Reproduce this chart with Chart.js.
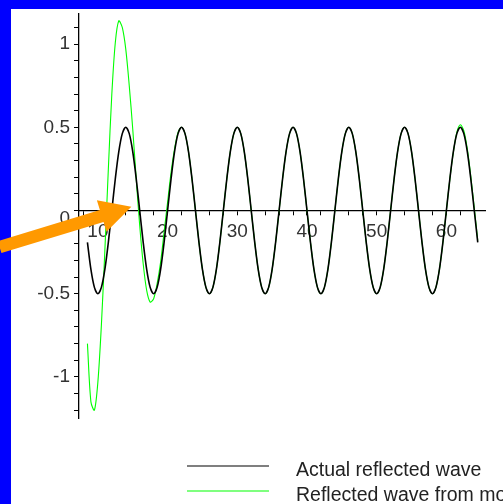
<!DOCTYPE html>
<html lang="en">
<head>
    <meta charset="UTF-8">
    <title>Reflected wave</title>
    <script src="https://cdn.jsdelivr.net/npm/chart.js"></script>
    <style>
        body {
            margin: 0;
            overflow: hidden;
            background-color: #0000ff;
        }

        .chart-container {
            position: relative;
            width: 503px;
            height: 504px;
        }
    </style>
</head>
<body>

    <div class="chart-container">
        <canvas id="waveChart"></canvas>
    </div>

    <script>
        // Sample positions along the line
        const xValues = [
            8.5, 9, 9.5, 10, 10.5, 11, 11.5, 12, 12.5, 13, 13.5, 14, 14.5, 15, 15.5, 16,
            16.5, 17, 17.5, 18, 18.5, 19, 19.5, 20, 20.5, 21, 21.5, 22, 22.5, 23, 23.5, 24,
            24.5, 25, 25.5, 26, 26.5, 27, 27.5, 28, 28.5, 29, 29.5, 30, 30.5, 31, 31.5, 32,
            32.5, 33, 33.5, 34, 34.5, 35, 35.5, 36, 36.5, 37, 37.5, 38, 38.5, 39, 39.5, 40,
            40.5, 41, 41.5, 42, 42.5, 43, 43.5, 44, 44.5, 45, 45.5, 46, 46.5, 47, 47.5, 48,
            48.5, 49, 49.5, 50, 50.5, 51, 51.5, 52, 52.5, 53, 53.5, 54, 54.5, 55, 55.5, 56,
            56.5, 57, 57.5, 58, 58.5, 59, 59.5, 60, 60.5, 61, 61.5, 62, 62.5, 63, 63.5, 64,
            64.5
        ];

        // Actual reflected wave
        const actualWave = [
            -0.191, -0.354, -0.462, -0.5, -0.462, -0.354, -0.191, 0, 0.191, 0.354, 0.462, 0.5, 0.462, 0.354, 0.191, 0,
            -0.191, -0.354, -0.462, -0.5, -0.462, -0.354, -0.191, 0, 0.191, 0.354, 0.462, 0.5, 0.462, 0.354, 0.191, 0,
            -0.191, -0.354, -0.462, -0.5, -0.462, -0.354, -0.191, 0, 0.191, 0.354, 0.462, 0.5, 0.462, 0.354, 0.191, 0,
            -0.191, -0.354, -0.462, -0.5, -0.462, -0.354, -0.191, 0, 0.191, 0.354, 0.462, 0.5, 0.462, 0.354, 0.191, 0,
            -0.191, -0.354, -0.462, -0.5, -0.462, -0.354, -0.191, 0, 0.191, 0.354, 0.462, 0.5, 0.462, 0.354, 0.191, 0,
            -0.191, -0.354, -0.462, -0.5, -0.462, -0.354, -0.191, 0, 0.191, 0.354, 0.462, 0.5, 0.462, 0.354, 0.191, 0,
            -0.191, -0.354, -0.462, -0.5, -0.462, -0.354, -0.191, 0, 0.191, 0.354, 0.462, 0.5, 0.462, 0.354, 0.191, 0,
            -0.191
        ];

        // Reflected wave from the model (big start-up swing, then settles)
        const modelWave = [
            -0.80, -1.15, -1.20, -1.03, -0.69, -0.24, 0.25, 0.70, 1.01, 1.14, 1.10, 0.97, 0.75, 0.49, 0.19, -0.09,
            -0.32, -0.48, -0.55, -0.53, -0.44, -0.31, -0.13, 0.05, 0.23, 0.37, 0.47, 0.50, 0.462, 0.354, 0.191, 0,
            -0.191, -0.354, -0.462, -0.5, -0.462, -0.354, -0.191, 0, 0.191, 0.354, 0.462, 0.5, 0.462, 0.354, 0.191, 0,
            -0.191, -0.354, -0.462, -0.5, -0.462, -0.354, -0.191, 0, 0.191, 0.354, 0.462, 0.5, 0.462, 0.354, 0.191, 0,
            -0.191, -0.354, -0.462, -0.5, -0.462, -0.354, -0.191, 0, 0.191, 0.354, 0.462, 0.5, 0.462, 0.354, 0.191, 0,
            -0.191, -0.354, -0.462, -0.5, -0.462, -0.354, -0.191, 0, 0.191, 0.354, 0.462, 0.5, 0.462, 0.354, 0.191, 0,
            -0.191, -0.354, -0.462, -0.5, -0.462, -0.354, -0.191, 0, 0.19, 0.35, 0.47, 0.515, 0.48, 0.37, 0.205, 0.015,
            -0.18
        ];

        const seriesNames = ['Actual reflected wave', 'Reflected wave from model'];
        const seriesColors = ['#000000', '#00ff00'];

        // Tick positions (labels only on the round ones)
        const xTicks = [8, 10, 12, 14, 16, 18, 20, 22, 24, 26, 28, 30, 32, 34, 36, 38, 40,
                        42, 44, 46, 48, 50, 52, 54, 56, 58, 60, 62, 64];
        const xLabelled = [10, 20, 30, 40, 50, 60];
        const yTicks = [-1.2, -1.1, -1, -0.9, -0.8, -0.7, -0.6, -0.5, -0.4, -0.3, -0.2, -0.1, 0,
                        0.1, 0.2, 0.3, 0.4, 0.5, 0.6, 0.7, 0.8, 0.9, 1, 1.1];
        const yLabelled = [-1, -0.5, 0, 0.5, 1];

        // Arrow pointing at the first crossing (axis units)
        const arrowFrom = { x: -4.1, y: -0.22 };
        const arrowTo = { x: 14.8, y: 0.022 };

        const fontFamily = '"Liberation Sans", Arial, sans-serif';

        // Blue frame with white panel behind the plot
        const framePlugin = {
            id: 'frame',
            beforeDraw(chart) {
                const ctx = chart.ctx;
                ctx.save();
                ctx.fillStyle = '#0000ff';
                ctx.fillRect(0, 0, chart.width, chart.height);
                ctx.fillStyle = '#ffffff';
                ctx.fillRect(11, 9, chart.width - 11, chart.height - 9);
                ctx.restore();
            }
        };

        // Legend below the plot, one row per series
        const legendPlugin = {
            id: 'lineLegend',
            afterDraw(chart) {
                const ctx = chart.ctx;
                ctx.save();
                ctx.font = '19.5px ' + fontFamily;
                ctx.textBaseline = 'alphabetic';
                chart.data.datasets.forEach((ds, i) => {
                    const y = 466 + i * 25;
                    ctx.strokeStyle = ds.borderColor;
                    ctx.lineWidth = 1.2;
                    ctx.beginPath();
                    ctx.moveTo(187, y);
                    ctx.lineTo(269, y);
                    ctx.stroke();
                    ctx.fillStyle = '#222';
                    ctx.fillText(ds.label, 296, y + 10);
                });
                ctx.restore();
            }
        };

        // Orange arrow on top of everything
        const arrowPlugin = {
            id: 'arrow',
            afterDraw(chart) {
                const xs = chart.scales.x, ys = chart.scales.y;
                const x1 = xs.getPixelForValue(arrowFrom.x), y1 = ys.getPixelForValue(arrowFrom.y);
                const x2 = xs.getPixelForValue(arrowTo.x), y2 = ys.getPixelForValue(arrowTo.y);
                const ang = Math.atan2(y2 - y1, x2 - x1);
                const len = Math.hypot(x2 - x1, y2 - y1);
                const shaft = 12.5, headLen = 31, headW = 33;
                const ctx = chart.ctx;
                ctx.save();
                ctx.translate(x1, y1);
                ctx.rotate(ang);
                ctx.beginPath();
                ctx.moveTo(0, -shaft / 2);
                ctx.lineTo(len - headLen, -shaft / 2);
                ctx.lineTo(len - headLen, -headW / 2);
                ctx.lineTo(len, 0);
                ctx.lineTo(len - headLen, headW / 2);
                ctx.lineTo(len - headLen, shaft / 2);
                ctx.lineTo(0, shaft / 2);
                ctx.closePath();
                ctx.fillStyle = '#ff9900';
                ctx.fill();
                ctx.restore();
            }
        };

        const ctx = document.getElementById('waveChart').getContext('2d');
        const waveChart = new Chart(ctx, {
            type: 'line',
            data: {
                datasets: [{
                    label: seriesNames[0],
                    data: xValues.map((x, i) => ({ x: x, y: actualWave[i] })),
                    borderColor: seriesColors[0],
                    borderWidth: 1.6,
                    pointRadius: 0,
                    tension: 0.3,
                    order: 0
                }, {
                    label: seriesNames[1],
                    data: xValues.map((x, i) => ({ x: x, y: modelWave[i] })),
                    borderColor: seriesColors[1],
                    borderWidth: 1.1,
                    pointRadius: 0,
                    tension: 0.3,
                    order: 1
                }]
            },
            options: {
                responsive: true,
                maintainAspectRatio: false,
                animation: false,
                events: [],
                layout: {
                    padding: { left: 0, top: 14, right: 18, bottom: 86 }
                },
                plugins: {
                    legend: { display: false },
                    tooltip: { enabled: false }
                },
                scales: {
                    x: {
                        type: 'linear',
                        position: { y: 0 },
                        min: 7.29,
                        max: 65.54,
                        afterBuildTicks: scale => {
                            scale.ticks = xTicks.map(v => ({ value: v }));
                        },
                        grid: {
                            drawOnChartArea: false,
                            drawTicks: true,
                            tickLength: 4,
                            tickColor: '#000',
                            tickWidth: 1
                        },
                        border: { display: true, color: '#000', width: 1.3 },
                        ticks: {
                            autoSkip: false,
                            maxRotation: 0,
                            padding: 6,
                            color: '#333',
                            font: { family: fontFamily, size: 19 },
                            callback: v => xLabelled.includes(v) ? String(v) : ''
                        }
                    },
                    y: {
                        type: 'linear',
                        min: -1.247,
                        max: 1.181,
                        afterFit: scale => { scale.width = 79; },
                        afterBuildTicks: scale => {
                            scale.ticks = yTicks.map(v => ({ value: v }));
                        },
                        grid: {
                            drawOnChartArea: false,
                            drawTicks: true,
                            tickLength: 5,
                            tickColor: '#000',
                            tickWidth: 1
                        },
                        border: { display: true, color: '#000', width: 1.3 },
                        ticks: {
                            autoSkip: false,
                            padding: 4,
                            color: '#333',
                            font: { family: fontFamily, size: 19, lineHeight: 0.9 },
                            callback: v => {
                                if (!yLabelled.includes(v)) return '';
                                // the zero label sits just under the horizontal axis
                                return v === 0 ? ['', '0'] : String(v);
                            }
                        }
                    }
                }
            },
            plugins: [framePlugin, legendPlugin, arrowPlugin]
        });
    </script>

</body>
</html>
